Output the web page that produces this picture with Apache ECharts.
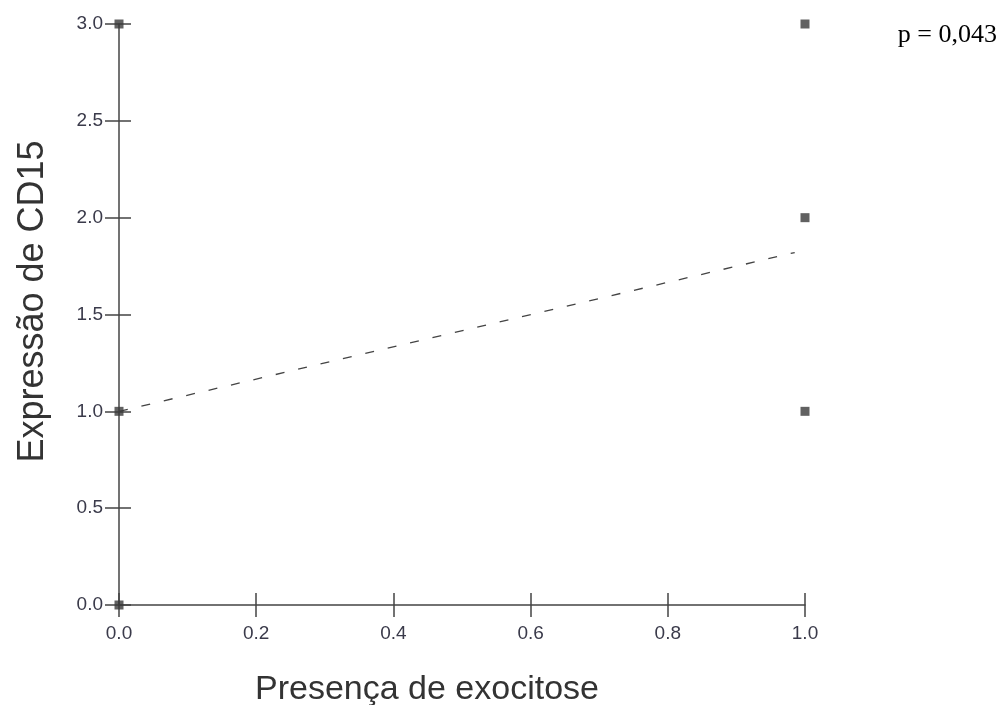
<!DOCTYPE html>
<html><head><meta charset="utf-8">
<script src="https://cdn.jsdelivr.net/npm/echarts@6/dist/echarts.min.js"></script>
<style>html,body{margin:0;padding:0;background:#fff}#c{width:1001px;height:705px}</style>
</head><body><div id="c"></div>
<script>
const pointsX = [0, 0, 0, 1, 1, 1];
const pointsY = [0, 1, 3, 1, 2, 3];
const trendX = [0, 0.985];
const trendY = [1.0, 1.82];
const xTicks = [0, 0.2, 0.4, 0.6, 0.8, 1.0];
const yTicks = [0, 0.5, 1.0, 1.5, 2.0, 2.5, 3.0];
const xTitle = 'Presença de exocitose';
const yTitle = 'Expressão de CD15';
const pText = 'p = 0,043';

const chart = echarts.init(document.getElementById('c'));
const axisCol = '#444';
const labelFont = {fontFamily: 'Liberation Sans, Arial', fontSize: 19, color: '#3a3a4a'};
chart.setOption({
  animation: false,
  backgroundColor: '#fff',
  grid: {left: 119, right: 196, top: 24, bottom: 100, containLabel: false, outerBoundsMode: 'none'},
  title: {text: pText, right: -1, top: 17, textStyle: {fontFamily: 'Liberation Serif, Times New Roman', fontSize: 26, fontWeight: 'normal', color: '#000'}},
  xAxis: [{
    type: 'value', min: 0, max: 1, interval: 0.2,
    name: xTitle, nameLocation: 'middle', nameGap: 68,
    nameTextStyle: {fontFamily: 'Liberation Sans, Arial', fontSize: 34, color: '#333', padding: [0, 70, 0, 0]},
    axisLine: {lineStyle: {color: axisCol, width: 1.5}},
    axisTick: {show: true, length: 12, lineStyle: {color: axisCol, width: 1.5}},
    axisLabel: Object.assign({margin: 19, formatter: v => v.toFixed(1)}, labelFont),
    splitLine: {show: false}
  }, {
    type: 'value', min: 0, max: 1, interval: 0.2, position: 'bottom',
    axisLine: {show: false},
    axisTick: {show: true, inside: true, length: 12, lineStyle: {color: axisCol, width: 1.5}},
    axisLabel: {show: false}, splitLine: {show: false}
  }],
  yAxis: [{
    type: 'value', min: 0, max: 3, interval: 0.5,
    name: yTitle, nameLocation: 'middle', nameGap: 68, nameRotate: 90,
    nameTextStyle: {fontFamily: 'Liberation Sans, Arial', fontSize: 36, color: '#333', padding: [0, 0, 0, 26]},
    axisLine: {lineStyle: {color: axisCol, width: 1.5}},
    axisTick: {show: true, length: 14, lineStyle: {color: axisCol, width: 1.5}},
    axisLabel: Object.assign({margin: 16, formatter: v => v.toFixed(1)}, labelFont),
    splitLine: {show: false}
  }, {
    type: 'value', min: 0, max: 3, interval: 0.5, position: 'left',
    axisLine: {show: false},
    axisTick: {show: true, inside: true, length: 12, lineStyle: {color: axisCol, width: 1.5}},
    axisLabel: {show: false}, splitLine: {show: false}
  }],
  series: [{
    type: 'line', xAxisIndex: 0, yAxisIndex: 0,
    data: trendX.map((x, i) => [x, trendY[i]]),
    showSymbol: false, symbol: 'none',
    lineStyle: {color: '#444', width: 1.3, type: [9, 14]}
  }, {
    type: 'scatter', xAxisIndex: 0, yAxisIndex: 0,
    data: pointsX.map((x, i) => [x, pointsY[i]]),
    symbol: 'rect', symbolSize: 9,
    itemStyle: {color: '#3a3a3a'}, z: 5
  }]
});
</script></body></html>
